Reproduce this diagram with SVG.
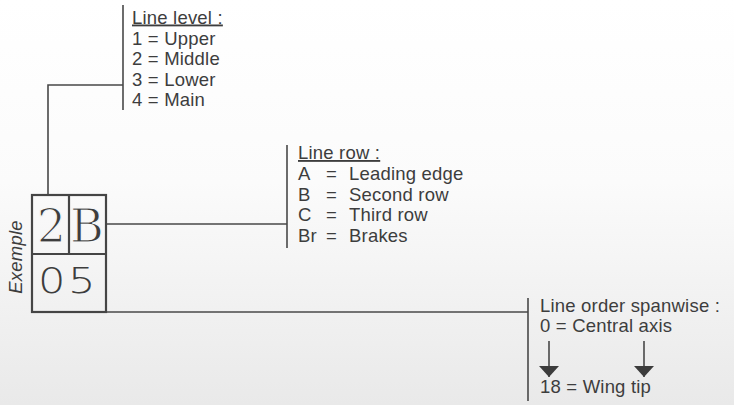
<svg xmlns="http://www.w3.org/2000/svg" width="734" height="405" viewBox="0 0 734 405">
<defs>
<linearGradient id="bg" x1="0" y1="0" x2="0" y2="1">
<stop offset="0" stop-color="#ffffff"/>
<stop offset="0.45" stop-color="#fbfbfb"/>
<stop offset="1" stop-color="#e9e9e9"/>
</linearGradient>
<marker id="arr" viewBox="0 0 11 20" refX="11" refY="10" markerWidth="11" markerHeight="20" markerUnits="userSpaceOnUse" orient="auto">
<path d="M0,0 L11,10 L0,20 Z" fill="#3c3c3c"/>
</marker>
</defs>
<style>
.ln{stroke:#484848;stroke-width:1.6;fill:none}
.bx{stroke:#454545;stroke-width:2.2;fill:none}
.t{font-family:"Liberation Sans",Arial,sans-serif;font-size:18.5px;letter-spacing:0.2px;fill:#3d3d3d}
.u{text-decoration:underline}
.ser{font-family:"DejaVu Serif","Liberation Serif",serif;font-size:46px;fill:#3d3d3d;text-anchor:middle;stroke:#f8f8f8;stroke-width:1.2}
.dig{font-family:"DejaVu Sans","Liberation Sans",sans-serif;font-weight:200;font-size:36px;fill:#3d3d3d;text-anchor:middle;letter-spacing:2px}
</style>
<rect width="734" height="405" fill="url(#bg)"/>

<g id="connectors">
<polyline class="ln" points="48,195 48,85 123,85"/>
<line class="ln" x1="123" y1="5" x2="123" y2="110"/>
<line class="ln" x1="106" y1="224" x2="287" y2="224"/>
<line class="ln" x1="287" y1="145" x2="287" y2="248"/>
<line class="ln" x1="106" y1="312" x2="528" y2="312"/>
<line class="ln" x1="528" y1="298" x2="528" y2="401"/>
<line class="ln" x1="549" y1="341" x2="549" y2="377" marker-end="url(#arr)"/>
<line class="ln" x1="644" y1="341" x2="644" y2="377" marker-end="url(#arr)"/>
</g>

<g id="code-box">
<rect class="bx" x="32" y="195" width="74" height="117"/>
<line class="bx" x1="32" y1="254" x2="106" y2="254"/>
<line class="bx" x1="69" y1="195" x2="69" y2="254"/>
<text class="ser" x="51.5" y="242">2</text>
<text class="ser" x="87" y="242">B</text>
<text class="dig" transform="translate(68,293) scale(1.2,1)" x="0" y="0">05</text>
<text class="t" transform="translate(22,257) rotate(-90)" text-anchor="middle" font-style="italic" font-size="17" letter-spacing="0.5">Exemple</text>
</g>

<g id="line-level">
<text class="t u" x="132" y="23.5">Line level :</text>
<text class="t" x="132" y="44.5">1 = Upper</text>
<text class="t" x="132" y="65">2 = Middle</text>
<text class="t" x="132" y="85.5">3 = Lower</text>
<text class="t" x="132" y="106">4 = Main</text>
</g>

<g id="line-row">
<text class="t u" x="298" y="159">Line row :</text>
<text class="t" x="298" y="180">A</text><text class="t" x="326" y="180">=</text><text class="t" x="349" y="180">Leading edge</text>
<text class="t" x="298" y="200.5">B</text><text class="t" x="326" y="200.5">=</text><text class="t" x="349" y="200.5">Second row</text>
<text class="t" x="298" y="221">C</text><text class="t" x="326" y="221">=</text><text class="t" x="349" y="221">Third row</text>
<text class="t" x="298" y="242">Br</text><text class="t" x="326" y="242">=</text><text class="t" x="349" y="242">Brakes</text>
</g>

<g id="line-order">
<text class="t" x="540" y="312">Line order spanwise :</text>
<text class="t" x="540" y="332">0 = Central axis</text>
<text class="t" x="540" y="393">18 = Wing tip</text>
</g>
</svg>
